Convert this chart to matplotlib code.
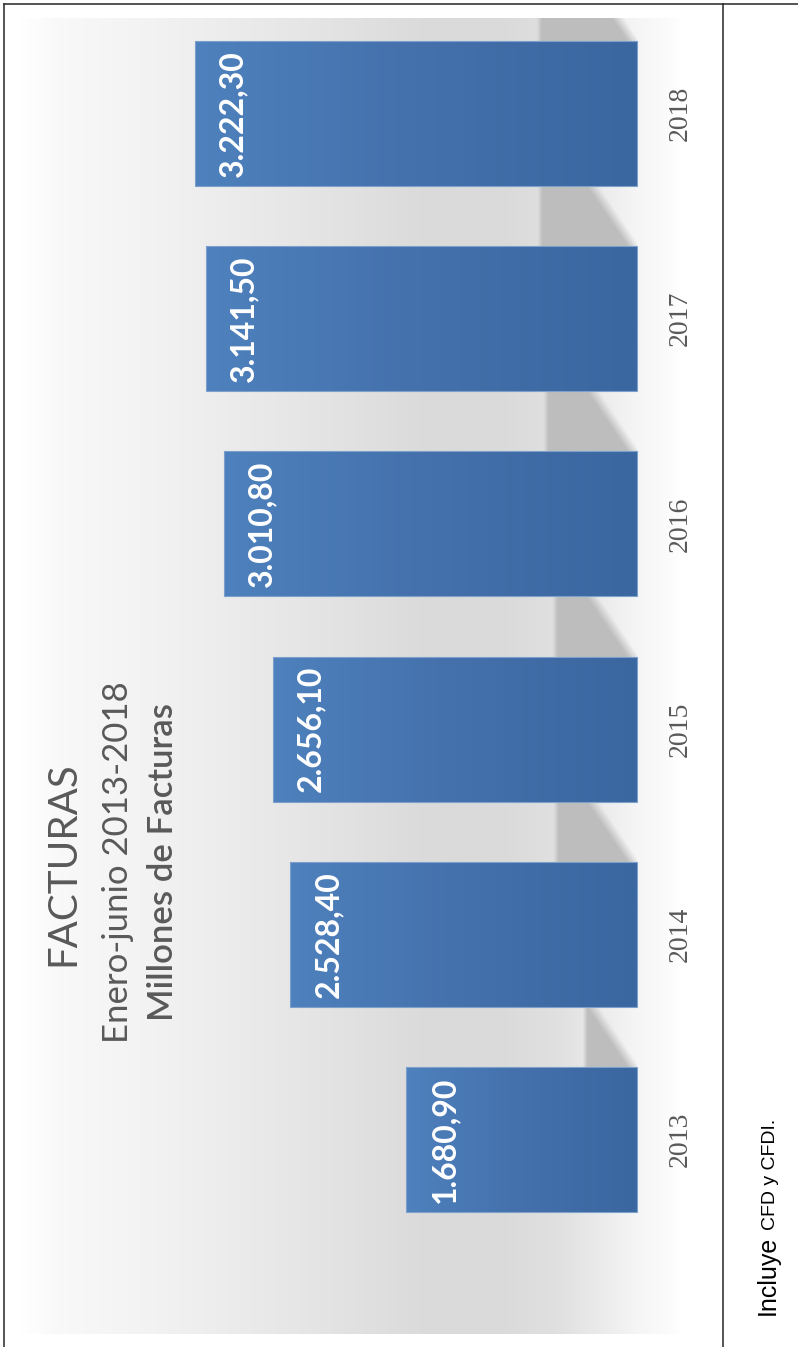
import numpy as np
import matplotlib
matplotlib.use("Agg")
import matplotlib.pyplot as plt
from matplotlib.colors import LinearSegmentedColormap
from matplotlib.lines import Line2D

# data (millones de facturas, enero-junio)
years = ["2013", "2014", "2015", "2016", "2017", "2018"]
facturas = [1680.90, 2528.40, 2656.10, 3010.80, 3141.50, 3222.30]

title = "FACTURAS"
subtitle = "Enero-junio 2013-2018"
units = "Millones de Facturas"
note_a = "Incluye"
note_b = "CFD y CFDI."


def es_fmt(v):
    s = f"{v:,.2f}"
    return s.replace(",", "X").replace(".", ",").replace("X", ".")


W, H = 798, 1347
fig = plt.figure(figsize=(W / 100, H / 100), dpi=100)
ax = fig.add_axes([20 / W, 13 / H, 662 / W, 1316 / H])

idx = np.arange(len(years))
h = 0.707

# background: grey gradient across the plot area (axes fraction, grey level)
bg_stops = [(0.0, 1.0), (0.06, 0.975), (0.2, 0.95), (0.43, 0.90), (0.62, 0.855),
            (0.725, 0.855), (0.816, 0.88), (0.89, 0.93), (0.93, 0.96),
            (0.98, 0.985), (1.0, 1.0)]
fr = [s[0] for s in bg_stops]
gr = [s[1] for s in bg_stops]
bg = np.interp(np.linspace(0, 1, 662), fr, gr)
ax.imshow(np.dstack([bg, bg, bg]).reshape(1, -1, 3), extent=(0, 1, 0, 1),
          transform=ax.transAxes, aspect="auto", zorder=0, interpolation="bilinear")

# decorative shadows between the bars
shadow_reach = [394, 605, 612, 678, 722, 729]
xs = np.linspace(0, 800, 400)
gap = 1 - h
for k, reach in enumerate(shadow_reach):
    y0 = k + h / 2
    y1 = y0 + gap
    ys = np.linspace(y0, y1, 150)
    X, Y = np.meshgrid(xs, ys)
    t = (y1 - Y) / gap
    xr = 300 * (1 - t) - 20
    a = np.clip((X - xr) / 90, 0, 1) * np.clip((reach - X) / 35, 0, 1)
    rgba = np.zeros(X.shape + (4,))
    rgba[..., :3] = 0.745
    rgba[..., 3] = a
    ax.imshow(rgba, extent=(0, 800, y0, y1), origin="lower", aspect="auto",
              zorder=1, interpolation="bilinear")

# bars with a horizontal gradient
cmap = LinearSegmentedColormap.from_list("barras", ["#3a67a0", "#4470ab", "#4e81bd"])
grad = np.linspace(0, 1, 256)[None, :]
bars = ax.barh(idx, facturas, height=h, color="#4677b0", zorder=2, linewidth=0)
for b, v, i in zip(bars, facturas, idx):
    im = ax.imshow(grad, extent=(0, v, i - h / 2, i + h / 2), cmap=cmap,
                   aspect="auto", zorder=2.5, interpolation="bilinear")
    im.set_clip_path(b)
ax.barh(idx, facturas, height=h, fill=False, edgecolor="#7d9fcb", linewidth=0.8, zorder=3)

for v, i in zip(facturas, idx):
    ax.annotate(es_fmt(v), xy=(v, i), xytext=(17, 0), textcoords="offset points",
                rotation=90, ha="left", va="center", color="white",
                fontsize=23, fontweight="bold", family="Lato", zorder=4)

ax.set_xlim(4498, -328)
ax.set_ylim(-0.948, 5.465)
ax.set_xticks([])
ax.yaxis.tick_right()
ax.set_yticks(idx)
ax.set_yticklabels(years, rotation=90, va="center", ha="left",
                   family="Liberation Serif", fontsize=20, color="#595959")
ax.tick_params(axis="y", length=0, pad=-10)
for sp in ax.spines.values():
    sp.set_visible(False)
ax.patch.set_visible(False)

# titles
fig.text(63 / W, 1 - 864 / H, title, rotation=90, ha="center", va="center",
         fontsize=29, color="#595959", family="Lato")
fig.text(118 / W, 1 - 862 / H, subtitle, rotation=90, ha="center", va="center",
         fontsize=25, color="#595959", family="Lato")
fig.text(163 / W, 1 - 862 / H, units, rotation=90, ha="center", va="center",
         fontsize=25, color="#595959", family="Lato", fontweight="semibold")

# note in the right-hand column
t1 = fig.text(775 / W, 1 - 1315 / H, note_a, rotation=90, rotation_mode="anchor",
              ha="left", va="baseline", fontsize=18, color="black", family="Liberation Sans")
r = fig.canvas.get_renderer()
ln = t1.get_window_extent(r).height
fig.text(775 / W, 1 - (1315 - ln - 6) / H, note_b, rotation=90, rotation_mode="anchor",
         ha="left", va="baseline", fontsize=14, color="black", family="Liberation Sans")

# frame lines
for xx, yy in [([4 / W, 4 / W], [0, 1 - 4 / H]),
               ([4 / W, 1], [1 - 4 / H, 1 - 4 / H]),
               ([723 / W, 723 / W], [0, 1 - 4 / H])]:
    fig.add_artist(Line2D(xx, yy, transform=fig.transFigure, color="#262626", lw=1.1))

fig.savefig("out.png", dpi=100)
